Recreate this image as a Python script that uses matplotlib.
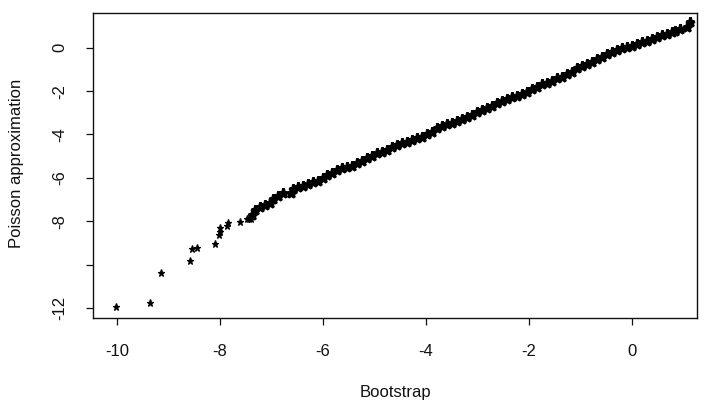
import matplotlib
matplotlib.use("Agg")
import matplotlib.pyplot as plt

plt.rcParams['font.family'] = ['Liberation Sans', 'DejaVu Sans']

# Sparse lower-tail points (Bootstrap, Poisson approximation)
tail_x = [-10.02, -9.36, -9.15, -8.58, -8.55, -8.45, -8.10, -8.02, -8.01, -8.00,
          -7.87, -7.84, -7.62, -7.48, -7.44, -7.39]
tail_y = [-11.93, -11.78, -10.38, -9.84, -9.26, -9.24, -9.03, -8.63, -8.48, -8.32,
          -8.22, -8.06, -8.03, -7.91, -7.91, -7.89]

# Dense part of the quantile-quantile curve
band_x = [-7.38, -7.32, -7.22, -7.13, -7.03, -6.97, -6.87, -6.78, -6.63, -6.58,
          -6.48, -6.38, -6.29, -6.19, -6.09, -6.01, -5.93, -5.83, -5.73, -5.64,
          -5.54, -5.44, -5.35, -5.25, -5.15, -5.05, -4.96, -4.86, -4.76, -4.67,
          -4.57, -4.47, -4.37, -4.28, -4.18, -4.08, -3.99, -3.89, -3.79, -3.70,
          -3.60, -3.50, -3.40, -3.31, -3.21, -3.11, -3.02, -2.92, -2.82, -2.72,
          -2.63, -2.53, -2.43, -2.34, -2.24, -2.14, -2.04, -1.95, -1.85, -1.75,
          -1.66, -1.56, -1.46, -1.37, -1.27, -1.17, -1.07, -0.98, -0.88, -0.78,
          -0.69, -0.59, -0.49, -0.39, -0.30, -0.20, -0.10, -0.01, 0.09, 0.19,
          0.29, 0.38, 0.48, 0.58, 0.67, 0.77, 0.83, 0.93, 1.06, 1.13]
band_y = [-7.71, -7.48, -7.35, -7.25, -7.14, -6.99, -6.83, -6.71, -6.68, -6.53,
          -6.43, -6.37, -6.28, -6.20, -6.14, -6.02, -5.87, -5.76, -5.64, -5.56,
          -5.48, -5.44, -5.33, -5.21, -5.10, -4.99, -4.87, -4.79, -4.71, -4.59,
          -4.48, -4.41, -4.33, -4.25, -4.18, -4.10, -3.99, -3.87, -3.71, -3.61,
          -3.53, -3.46, -3.36, -3.29, -3.21, -3.10, -2.98, -2.87, -2.76, -2.67,
          -2.56, -2.44, -2.36, -2.29, -2.21, -2.13, -2.03, -1.92, -1.80, -1.69,
          -1.61, -1.52, -1.41, -1.34, -1.23, -1.11, -0.95, -0.84, -0.75, -0.65,
          -0.52, -0.41, -0.30, -0.18, -0.11, -0.03, 0.02, 0.08, 0.16, 0.25,
          0.32, 0.40, 0.49, 0.59, 0.62, 0.71, 0.78, 0.86, 0.97, 1.17]

x_ticks = [-10, -8, -6, -4, -2, 0]
x_tick_labels = ['-10', '-8', '-6', '-4', '-2', '0']
y_ticks = [-12, -10, -8, -6, -4, -2, 0]
y_tick_labels = ['-12', '', '-8', '-6', '-4', '-2', '0']

fig = plt.figure(figsize=(7.1, 4.05), dpi=100)
ax = fig.add_axes([93.3 / 710, 1 - 318.3 / 405, (697 - 93.3) / 710, (318.3 - 13.3) / 405])

ink = '#111111'
ax.plot(tail_x, tail_y, linestyle='none', marker='*',
        markersize=5.2, color='black', markeredgewidth=0.9)
ax.plot(band_x, band_y, linestyle='none', marker='*',
        markersize=6.8, color='black', markeredgewidth=2.0)

ax.set_xlim(-10.46, 1.26)
ax.set_ylim(-12.47, 1.585)

ax.set_xticks(x_ticks)
ax.set_xticklabels(x_tick_labels)
ax.set_yticks(y_ticks)
ax.set_yticklabels(y_tick_labels, rotation=90, va='center')

ax.tick_params(axis='both', direction='out', length=5, width=0.9, colors=ink,
               labelsize=12, pad=13.5)
for s in ax.spines.values():
    s.set_linewidth(1.0)
    s.set_color(ink)

fig.text(395 / 710, 1 - 392 / 405, 'Bootstrap', ha='center', va='center',
         fontsize=12, color=ink)
fig.text(17 / 710, 1 - 163 / 405, 'Poisson approximation', ha='center', va='center',
         rotation=90, fontsize=12, color=ink)

fig.savefig('out.png', dpi=100)
